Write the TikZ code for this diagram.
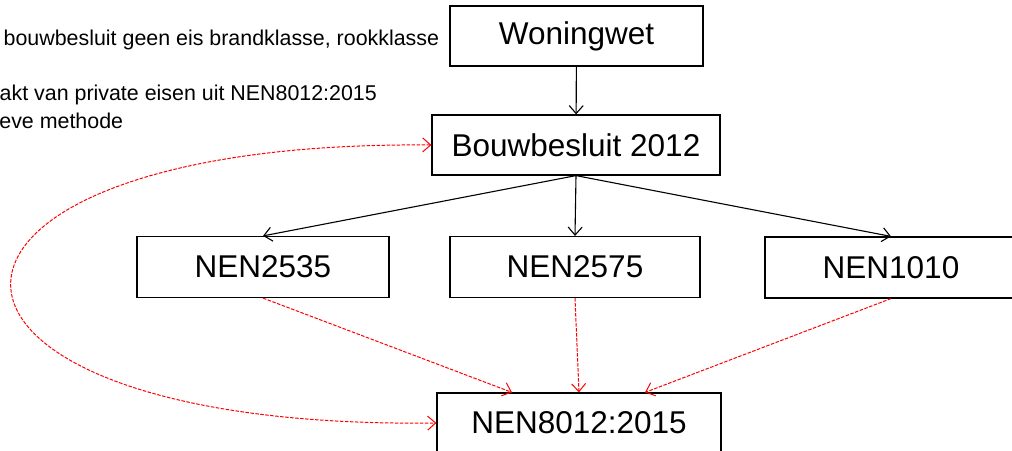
\documentclass[tikz,border=0pt]{standalone}
\usepackage{fontspec}
\setmainfont{Liberation Sans}
\usetikzlibrary{arrows.meta}

\begin{document}
\begin{tikzpicture}[
		x=1pt, y=-1pt,
		>={Straight Barb[length=8pt,width=14pt]},
		box/.style={draw, line width=1.2pt, inner sep=0pt, minimum height=60pt, font=\fontsize{31.5}{36}\selectfont},
		note/.style={anchor=base west, inner sep=0pt, font=\fontsize{21.4}{25}\selectfont},
		law/.style={->, line width=1.1pt},
		ref/.style={->, red, dash pattern=on 3.5pt off 1.5pt, line width=1pt}
		]
		\useasboundingbox (0,0) rectangle (1012,450);
		% remarks, cut off at the left edge
		\node[note] (remA) at (3.5,45) {bouwbesluit geen eis brandklasse, rookklasse};
		\node[note] (remB) at (-0.5,100) {akt van private eisen uit NEN8012:2015};
		\node[note] (remC) at (-0.8,128) {eve methode};
		% regulations
		\node[box, minimum width=253pt] (won) at (576.5,36) {Woningwet};
		\node[box, minimum width=288pt] (bouw) at (576,145) {Bouwbesluit 2012};
		\node[box, minimum width=252pt, minimum height=61pt] (nenA) at (263,267) {NEN2535};
		\node[box, minimum width=250pt, minimum height=61pt] (nenB) at (575,267) {NEN2575};
		\node[box, minimum width=252pt, minimum height=61pt] (nenC) at (891,267.5) {NEN1010};
		\node[box, minimum width=284pt] (nen8012) at (579,423) {NEN8012:2015};
		% legal chain
		\draw[law] (won) -- (bouw);
		\draw[law] (bouw.south) -- (nenA.north);
		\draw[law] (bouw.south) -- (nenB.north);
		\draw[law] (bouw.south) -- (nenC.north);
		% references to NEN8012
		\draw[ref] (nenA.south) -- ([xshift=-67pt]nen8012.north);
		\draw[ref] (nenB.south) -- (nen8012.north);
		\draw[ref] (nenC.south) -- ([xshift=66pt]nen8012.north);
		\draw[ref, <->] (bouw.west) .. controls (-130,140) and (-130,430) .. (nen8012.west);
\end{tikzpicture}
\end{document}
